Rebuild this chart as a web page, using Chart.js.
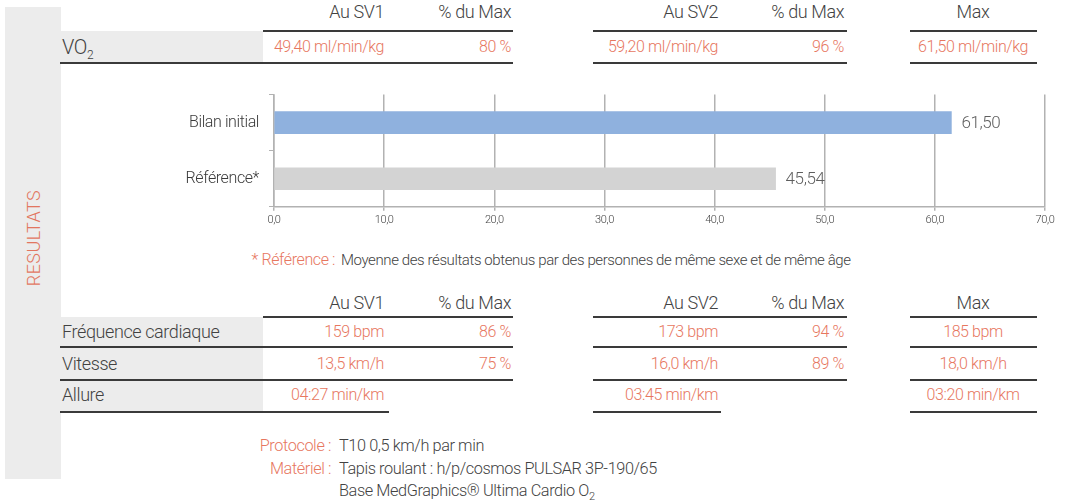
<!DOCTYPE html>
<html lang="fr">
<head>
<meta charset="UTF-8">
<title>Résultats</title>
<style>
    body { margin: 0; background: #fff; font-family: "Roboto", "DejaVu Sans Condensed", sans-serif; font-weight: 300; color: #424242; }
    #page { position: relative; width: 1068px; height: 503px; overflow: hidden; letter-spacing: -0.4px; }
    .t { position: absolute; white-space: nowrap; height: 24px; line-height: 24px; }
    .ln { position: absolute; height: 2px; background: #3a3a3a; }
    .bg { position: absolute; background: #ececec; }
    .or { color: #e7775f; }
    #strip { left: 5px; top: 7px; width: 56px; height: 472px; }
    #resultats { position: absolute; left: 33px; top: 238px; transform: translate(-50%, -50%) rotate(-90deg); color: #e27660; font-size: 18px; letter-spacing: 0.4px; }
    #chartBox { position: absolute; left: 140px; top: 75px; width: 920px; height: 155px; }
</style>
</head>
<body>
<div id="page">
    <div class="bg" id="strip"></div>
    <div id="resultats">RESULTATS</div>
    <div id="chartBox"><canvas id="vo2Chart"></canvas></div>
</div>

<script src="https://cdn.jsdelivr.net/npm/chart.js"></script>

<script>
    // Chart data
    const categories = ["Bilan initial", "Référence*"];
    const vo2Values = [61.50, 45.54];
    const barColors = ["#8fb1de", "#d3d3d3"];

    // Table data
    const groupHeaders = [["Au SV1", "% du Max"], ["Au SV2", "% du Max"], ["Max"]];
    const vo2Row = ["49,40 ml/min/kg", "80 %", "59,20 ml/min/kg", "96 %", "61,50 ml/min/kg"];
    const rowLabels = ["Fréquence cardiaque", "Vitesse", "Allure"];
    const fcRow = ["159 bpm", "86 %", "173 bpm", "94 %", "185 bpm"];
    const vitesseRow = ["13,5 km/h", "75 %", "16,0 km/h", "89 %", "18,0 km/h"];
    const allureRow = ["04:27 min/km", "", "03:45 min/km", "", "03:20 min/km"];

    const page = document.getElementById('page');

    // place a piece of text, x is the anchor for the given alignment
    function txt(html, x, yc, align, size, cls) {
        const d = document.createElement('div');
        d.className = 't' + (cls ? ' ' + cls : '');
        d.innerHTML = html;
        d.style.fontSize = size + 'px';
        d.style.top = (yc - 12) + 'px';
        if (align === 'right') { d.style.left = (x - 400) + 'px'; d.style.width = '400px'; d.style.textAlign = 'right'; }
        else if (align === 'center') { d.style.left = (x - 200) + 'px'; d.style.width = '400px'; d.style.textAlign = 'center'; }
        else { d.style.left = x + 'px'; }
        page.appendChild(d);
    }
    function line(x1, x2, y) {
        const d = document.createElement('div');
        d.className = 'ln';
        d.style.left = x1 + 'px'; d.style.width = (x2 - x1) + 'px'; d.style.top = (y - 1) + 'px';
        page.appendChild(d);
    }
    function box(x, y, w, h) {
        const d = document.createElement('div');
        d.className = 'bg';
        d.style.left = x + 'px'; d.style.top = y + 'px'; d.style.width = w + 'px'; d.style.height = h + 'px';
        page.appendChild(d);
    }

    // column anchors: SV1, %SV1, SV2, %SV2, Max
    const colX = [384, 511, 718, 844, 973];
    const colAlign = ['right', 'right', 'right', 'right', 'center'];
    const groups = [[263, 513], [593, 847], [910, 1037]];

    function headers(yc) {
        txt(groupHeaders[0][0], colX[0], yc, 'right', 18);
        txt(groupHeaders[0][1], colX[1], yc, 'right', 18);
        txt(groupHeaders[1][0], colX[2], yc, 'right', 18);
        txt(groupHeaders[1][1], colX[3], yc, 'right', 18);
        txt(groupHeaders[2][0], colX[4], yc, 'center', 18);
    }
    function valueRow(vals, yc) {
        vals.forEach((v, i) => { if (v) txt(v, colX[i], yc, colAlign[i], 16, 'or'); });
    }

    // VO2 table
    box(60, 31, 203, 32);
    headers(12);
    groups.forEach(g => line(g[0], g[1], 31));
    txt('VO<sub style="font-size:12px">2</sub>', 62, 47, 'left', 20);
    valueRow(vo2Row, 47);
    line(60, 513, 63); line(593, 847, 63); line(910, 1037, 63);

    // footnote
    txt('* Référence :', 335, 260, 'right', 16, 'or');
    txt('Moyenne des résultats obtenus par des personnes de même sexe et de même âge', 341, 260, 'left', 15);

    // lower table
    box(60, 317, 203, 95);
    headers(303);
    groups.forEach(g => line(g[0], g[1], 317));
    const rows = [fcRow, vitesseRow, allureRow];
    const rowY = [332, 364, 395];
    rowLabels.forEach((lab, i) => { txt(lab, 62, rowY[i], 'left', 18); valueRow(rows[i], rowY[i]); });
    line(60, 513, 347); line(593, 847, 347); line(910, 1037, 347);
    line(60, 513, 380); line(593, 847, 380); line(910, 1037, 380);
    line(60, 389, 412); line(593, 721, 412); line(910, 1037, 412);

    // protocole / materiel
    txt('Protocole :', 331, 446, 'right', 16.3, 'or');
    txt('T10 0,5 km/h par min', 339, 446, 'left', 16.3);
    txt('Matériel :', 331, 469, 'right', 16.3, 'or');
    txt('Tapis roulant : h/p/cosmos PULSAR 3P-190/65', 339, 469, 'left', 16.3);
    txt('Base MedGraphics® Ultima Cardio O<sub style="font-size:11px">2</sub>', 339, 491, 'left', 16.3);

    // value labels at the end of each bar
    const endLabels = {
        id: 'endLabels',
        afterDatasetsDraw(chart) {
            const c = chart.ctx;
            const meta = chart.getDatasetMeta(0);
            c.save();
            c.font = '300 17px ' + Chart.defaults.font.family;
            c.fillStyle = '#5e5e5e';
            c.textBaseline = 'middle';
            meta.data.forEach((bar, i) => {
                c.fillText(vo2Values[i].toFixed(2).replace('.', ','), bar.x + 10, bar.y + 1);
            });
            c.restore();
        }
    };

    Chart.defaults.font.family = 'Roboto, "DejaVu Sans Condensed", sans-serif';
    Chart.defaults.font.weight = '300';

    const vo2Chart = new Chart(document.getElementById('vo2Chart'), {
        type: 'bar',
        data: {
            labels: categories,
            datasets: [{
                data: vo2Values,
                backgroundColor: barColors,
                barThickness: 22
            }]
        },
        options: {
            indexAxis: 'y',
            responsive: true,
            maintainAspectRatio: false,
            animation: false,
            layout: { padding: { top: 8, right: 15, left: 0, bottom: 0 } },
            plugins: { legend: { display: false }, tooltip: { enabled: false } },
            scales: {
                x: {
                    min: 0,
                    max: 70,
                    ticks: {
                        stepSize: 10,
                        color: '#444',
                        font: { size: 11 },
                        padding: 3,
                        callback: v => v.toFixed(1).replace('.', ',')
                    },
                    grid: { color: '#b2b2b2', lineWidth: 1.5, tickLength: 4 },
                    border: { color: '#b2b2b2', width: 1.5 }
                },
                y: {
                    grid: { drawOnChartArea: false, tickLength: 5, color: '#b2b2b2', offset: true },
                    border: { color: '#b2b2b2', width: 1.5 },
                    ticks: { color: '#3a3a3a', font: { size: 16 }, padding: 10 },
                    afterFit(scale) { scale.width = 134; }
                }
            }
        },
        plugins: [endLabels]
    });
</script>
</body>
</html>
